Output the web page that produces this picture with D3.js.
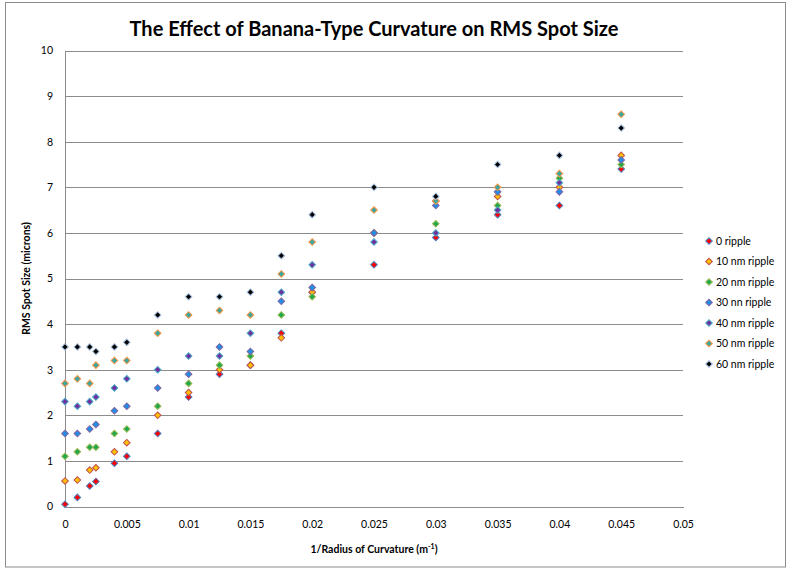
<!DOCTYPE html>
<html>
<head>
<meta charset="utf-8">
<script src="https://cdn.jsdelivr.net/npm/d3@7"></script>
<style>
  html, body { margin: 0; padding: 0; background: #fff; }
  svg { display: block; }
  text { font-family: Lato, "Open Sans", "Liberation Sans", sans-serif; fill: #000; }
</style>
</head>
<body>
<svg id="chart" width="791" height="569"></svg>
<script>
// Curvature values (1/m) where spot size was computed
const curvature = [0, 0.001, 0.002, 0.0025, 0.004, 0.005, 0.0075, 0.01, 0.0125, 0.015, 0.0175, 0.02, 0.025, 0.03, 0.035, 0.04, 0.045];

// RMS spot size (microns) for each ripple amplitude
const ripple0  = [0.05, 0.2, 0.45, 0.55, 0.95, 1.1, 1.6, 2.4, 2.9, 3.1, 3.8, 4.7, 5.3, 5.9, 6.4, 6.6, 7.4];
const ripple10 = [0.56, 0.58, 0.8, 0.85, 1.2, 1.4, 2.0, 2.5, 3.0, 3.1, 3.7, 4.7, 6.0, 6.7, 6.8, 7.0, 7.7];
const ripple20 = [1.1, 1.2, 1.3, 1.3, 1.6, 1.7, 2.2, 2.7, 3.1, 3.3, 4.2, 4.6, 6.0, 6.2, 6.6, 7.2, 7.5];
const ripple30 = [1.6, 1.6, 1.7, 1.8, 2.1, 2.2, 2.6, 2.9, 3.5, 3.4, 4.5, 4.8, 6.0, 6.6, 6.9, 6.9, 7.6];
const ripple40 = [2.3, 2.2, 2.3, 2.4, 2.6, 2.8, 3.0, 3.3, 3.3, 3.8, 4.7, 5.3, 5.8, 6.0, 6.5, 7.1, null];
const ripple50 = [2.7, 2.8, 2.7, 3.1, 3.2, 3.2, 3.8, 4.2, 4.3, 4.2, 5.1, 5.8, 6.5, 6.7, 7.0, 7.3, 8.6];
const ripple60 = [3.5, 3.5, 3.5, 3.4, 3.5, 3.6, 4.2, 4.6, 4.6, 4.7, 5.5, 6.4, 7.0, 6.8, 7.5, 7.7, 8.3];

const seriesNames = ["0 ripple", "10 nm ripple", "20 nm ripple", "30 nn ripple", "40 nm ripple", "50 nm ripple", "60 nm ripple"];
const seriesValues = [ripple0, ripple10, ripple20, ripple30, ripple40, ripple50, ripple60];
const fillColors   = ["#ff0000", "#ffc000", "#1fa84a", "#1f8fe6", "#7030a0", "#3aa6a0", "#000000"];
const strokeColors = ["#4f81bd", "#c0504d", "#9bbb59", "#8064a2", "#4bacc6", "#f79646", "#a7c0e0"];

const xTickValues = [0, 0.005, 0.01, 0.015, 0.02, 0.025, 0.03, 0.035, 0.04, 0.045, 0.05];
const xTickLabels = ["0", "0.005", "0.01", "0.015", "0.02", "0.025", "0.03", "0.035", "0.04", "0.045", "0.05"];
const yTickValues = [0, 1, 2, 3, 4, 5, 6, 7, 8, 9, 10];

const svg = d3.select("#chart");

// Outer chart frame
svg.append("rect")
  .attr("x", 5.5).attr("y", 2.5)
  .attr("width", 780).attr("height", 564.5)
  .attr("fill", "#fff")
  .attr("stroke", "#8c8c8c").attr("stroke-width", 1);

const x = d3.scaleLinear().domain([0, 0.05]).range([65, 683]);
const y = d3.scaleLinear().domain([0, 10]).range([506.5, 50.5]);

// Horizontal gridlines via a y axis with full-width ticks
const yGrid = svg.append("g")
  .attr("transform", `translate(${x(0)},0)`)
  .call(d3.axisLeft(y).tickValues(yTickValues).tickSize(-(x(0.05) - x(0))).tickFormat(""));
yGrid.select(".domain").remove();
yGrid.selectAll(".tick line")
  .attr("stroke", "#8c8c8c").attr("stroke-width", 1)
  .attr("shape-rendering", "crispEdges");

// Y axis line and labels
const yAxis = svg.append("g")
  .attr("transform", `translate(${x(0)},0)`)
  .call(d3.axisLeft(y).tickValues(yTickValues).tickSize(0).tickPadding(12).tickFormat(d3.format("d")));
yAxis.select(".domain").attr("stroke", "#8c8c8c").attr("shape-rendering", "crispEdges");
yAxis.selectAll(".tick text")
  .attr("font-family", "Lato, 'Open Sans', sans-serif")
  .attr("font-size", 10.5).attr("fill", "#000");

// X axis line and labels
const xAxis = svg.append("g")
  .attr("transform", `translate(0,${y(0)})`)
  .call(d3.axisBottom(x).tickValues(xTickValues).tickSize(0).tickPadding(14)
    .tickFormat((d, i) => xTickLabels[i]));
xAxis.select(".domain").attr("stroke", "#8c8c8c").attr("shape-rendering", "crispEdges");
xAxis.selectAll(".tick text")
  .attr("font-family", "Lato, 'Open Sans', sans-serif")
  .attr("font-size", 10.5).attr("fill", "#000");

// Title
svg.append("text")
  .attr("x", 374).attr("y", 36)
  .attr("text-anchor", "middle")
  .attr("font-size", 20).attr("font-weight", "bold")
  .text("The Effect of Banana-Type Curvature on RMS Spot Size");

// Axis titles
svg.append("text")
  .attr("transform", `translate(30,${(y(0) + y(10)) / 2}) rotate(-90)`)
  .attr("text-anchor", "middle")
  .attr("font-size", 10.5).attr("font-weight", "bold")
  .text("RMS Spot Size (microns)");

const xt = svg.append("text")
  .attr("x", 374).attr("y", 553)
  .attr("text-anchor", "middle")
  .attr("font-size", 10.5).attr("font-weight", "bold");
xt.append("tspan").text("1/Radius of Curvature (m");
xt.append("tspan").attr("font-size", 7).attr("dy", -4).text("-1");
xt.append("tspan").attr("dy", 4).text(")");

// Diamond marker: a square turned 45 degrees
const marker = d3.symbol().type(d3.symbolSquare).size(22)();

// Scatter points, one layer per series (later series draw on top)
seriesValues.forEach((vals, si) => {
  const pts = curvature.map((c, i) => ({ c, v: vals[i] })).filter(d => d.v != null);
  svg.append("g")
    .selectAll("path")
    .data(pts)
    .join("path")
    .attr("d", marker)
    .attr("transform", d => `translate(${x(d.c)},${y(d.v)}) rotate(45)`)
    .attr("fill", fillColors[si])
    .attr("stroke", strokeColors[si])
    .attr("stroke-width", 1);
});

// Legend
const legend = svg.append("g");
seriesNames.forEach((name, i) => {
  const ly = 241 + i * 20.5;
  legend.append("path")
    .attr("d", marker)
    .attr("transform", `translate(709,${ly}) rotate(45)`)
    .attr("fill", fillColors[i])
    .attr("stroke", strokeColors[i])
    .attr("stroke-width", 1);
  legend.append("text")
    .attr("x", 716).attr("y", ly + 3.8)
    .attr("font-size", 10.5)
    .text(name);
});
</script>
</body>
</html>
